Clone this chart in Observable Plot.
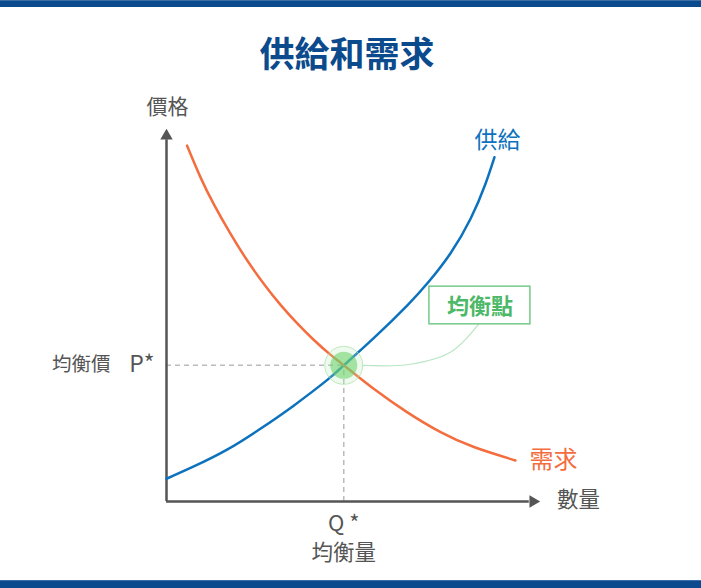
<!DOCTYPE html>
<html>
<head>
<meta charset="utf-8">
<script src="https://cdn.jsdelivr.net/npm/d3@7"></script>
<script src="https://cdn.jsdelivr.net/npm/@observablehq/plot@0.6"></script>
<style>
  html, body { margin: 0; padding: 0; background: #fff; }
  body { width: 701px; height: 588px; overflow: hidden; font-family: "Noto Sans CJK TC", "Noto Sans", sans-serif; }
  .topbar { height: 6px; background: #0b4a8c; border-top: 1px solid #3d6ea6; }
  .header { height: 83px; position: relative; }
  .title { position: absolute; left: -7px; right: 0; top: 27px; text-align: center; font-size: 35px; line-height: 36px; font-weight: 700; color: #0b4a8c; }
  #chart { height: 490px; }
  .bottombar { height: 7px; background: #0b4a8c; border-top: 1px solid #3d6ea6; }
</style>
</head>
<body>
<div class="topbar"></div>
<div class="header"><div class="title">供給和需求</div></div>
<div id="chart"></div>
<div class="bottombar"></div>
<script>
// Supply curve (quantity, price)
const supplyQ = [0, 7.3, 16.2, 25.1, 34.0, 43.0, 47.4, 55.4, 64.4, 70.1, 75.9, 81.3, 85.3, 87.7];
const supplyP = [6.1, 9.4, 13.9, 19.5, 25.7, 32.6, 36.5, 43.8, 52.6, 58.9, 66.5, 75.8, 85.2, 92.3];
// Demand curve (quantity, price)
const demandQ = [5.5, 9.1, 12.6, 17.1, 21.6, 26.0, 30.5, 34.9, 39.4, 43.9, 47.4, 55.4, 64.4, 73.3, 82.2, 93.3];
const demandP = [95.4, 86.9, 79.8, 71.8, 64.6, 58.4, 52.7, 47.8, 43.3, 39.3, 36.5, 30.2, 23.9, 18.6, 14.6, 11.0];
// Equilibrium
const eqQ = 47.4;
const eqP = 36.5;
// Callout leader line and label box
const leaderQ = [52.4, 65.2, 75.9, 83.4];
const leaderP = [36.5, 36.8, 40.0, 47.5];
const boxQ = [70.3, 97.3];
const boxP = [47.5, 57.6];
// Axis extent
const axisEnd = 98;

const supply = supplyQ.map((q, i) => ({q, p: supplyP[i]}));
const demand = demandQ.map((q, i) => ({q, p: demandP[i]}));
const leader = leaderQ.map((q, i) => ({q, p: leaderP[i]}));
const eq = [{q: eqQ, p: eqP}];

const gray = "#555";
const font = "Noto Sans CJK TC";

const plot = Plot.plot({
  width: 701,
  height: 490,
  marginLeft: 166,
  marginRight: 161,
  marginTop: 38,
  marginBottom: 79,
  x: {domain: [0, 100], axis: null},
  y: {domain: [0, 100], axis: null},
  style: {fontFamily: font, background: "transparent", overflow: "visible"},
  marks: [
    // dashed guides
    Plot.ruleY(eq, {x1: 0, x2: "q", y: "p", stroke: "#bbb", strokeWidth: 1.5, strokeDasharray: "5,4"}),
    Plot.ruleX(eq, {x: "q", y1: 0, y2: "p", stroke: "#bbb", strokeWidth: 1.5, strokeDasharray: "5,4"}),
    // axes
    Plot.ruleX([0], {y1: 0, y2: axisEnd - 1, stroke: gray, strokeWidth: 2.5}),
    Plot.ruleY([0], {x1: 0, x2: axisEnd - 1, stroke: gray, strokeWidth: 2.5}),
    Plot.dot([{q: 0, p: axisEnd}], {x: "q", y: "p", symbol: "triangle", r: 4.6, fill: gray, stroke: "none"}),
    Plot.dot([{q: axisEnd, p: 0}], {x: "q", y: "p", symbol: "triangle", r: 4.6, fill: gray, stroke: "none", rotate: 90}),
    // curves
    Plot.line(supply, {x: "q", y: "p", curve: "natural", stroke: "#0d72bd", strokeWidth: 2.5}),
    Plot.line(demand, {x: "q", y: "p", curve: "natural", stroke: "#f46d3e", strokeWidth: 2.5}),
    // leader line
    Plot.line(leader, {x: "q", y: "p", curve: "catmull-rom", stroke: "#b9e6c4", strokeWidth: 1.2}),
    // equilibrium marker
    Plot.dot(eq, {x: "q", y: "p", r: 19, fill: "#bfeabf", fillOpacity: 0.25, stroke: "#a6e0a6", strokeOpacity: 0.7, strokeWidth: 1}),
    Plot.dot(eq, {x: "q", y: "p", r: 13.5, fill: "#62cf62", fillOpacity: 0.55, stroke: "none"}),
    // callout box
    Plot.rect([{}], {x1: boxQ[0], x2: boxQ[1], y1: boxP[0], y2: boxP[1], fill: "white", stroke: "#74ca89", strokeWidth: 1.5}),
    Plot.text([{q: (boxQ[0] + boxQ[1]) / 2, p: (boxP[0] + boxP[1]) / 2}], {x: "q", y: "p", text: () => "均衡點", fill: "#4cb868", fontSize: 22, fontWeight: 700, dy: 1}),
    // curve labels
    Plot.text([supply[supply.length - 1]], {x: "q", y: "p", text: () => "供給", fill: "#0d72bd", fontSize: 23, dx: 3, dy: -17}),
    Plot.text([demand[demand.length - 1]], {x: "q", y: "p", text: () => "需求", fill: "#f46d3e", fontSize: 24, dx: 38, dy: 0}),
    // axis labels
    Plot.text([{q: 0, p: 100}], {x: "q", y: "p", text: () => "價格", fill: gray, fontSize: 21, dx: 1, dy: -21}),
    Plot.text([{q: 100, p: 0}], {x: "q", y: "p", text: () => "數量", fill: gray, fontSize: 21.5, dx: 38, dy: -1}),
    Plot.text(eq, {x: "q", y: () => 0, text: () => "Q *", fill: gray, fontSize: 22, dy: 22}),
    Plot.text(eq, {x: "q", y: () => 0, text: () => "均衡量", fill: gray, fontSize: 21.5, dy: 52}),
    Plot.text(eq, {x: () => 0, y: "p", text: () => "均衡價", fill: gray, fontSize: 19.5, textAnchor: "end", dx: -56, dy: -1}),
    Plot.text(eq, {x: () => 0, y: "p", text: () => "P*", fill: gray, fontSize: 23, textAnchor: "end", dx: -12, dy: -1})
  ]
});
document.getElementById("chart").appendChild(plot);
</script>
</body>
</html>
